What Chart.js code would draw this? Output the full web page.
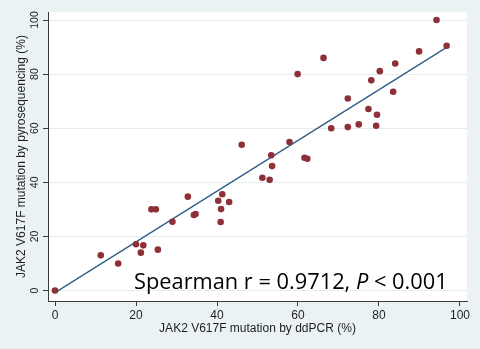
<!DOCTYPE html>
<html>
<head>
<meta charset="utf-8">
<script src="https://cdn.jsdelivr.net/npm/chart.js@4/dist/chart.umd.min.js"></script>
<style>
  html, body { margin: 0; padding: 0; background: #eaf2f3; }
  #wrap { width: 480px; height: 349px; }
</style>
</head>
<body>
<div id="wrap"><canvas id="c" width="480" height="349"></canvas></div>
<script>
// JAK2 V617F allele burden measured by ddPCR (x) and pyrosequencing (y), %
const ddpcr = [0, 11.3, 15.6, 20.0, 21.8, 21.2, 25.4, 23.8, 24.9, 29.0,
               32.8, 34.3, 34.7, 40.9, 41.0, 40.3, 41.3, 43.0, 46.1, 51.2,
               53.0, 53.6, 53.4, 57.9, 61.6, 62.3, 59.9, 66.3, 68.2, 72.3,
               72.3, 75.0, 77.4, 78.1, 80.2, 79.5, 79.3, 83.5, 84.0, 89.9,
               94.2, 96.7];
const pyro = [0, 13.0, 10.0, 17.1, 16.7, 14.0, 15.1, 30.0, 30.0, 25.4,
              34.7, 27.9, 28.3, 25.3, 30.1, 33.2, 35.6, 32.7, 53.9, 41.7,
              40.9, 46.0, 50.0, 54.9, 49.1, 48.7, 80.0, 86.0, 60.0, 71.0,
              60.4, 61.4, 67.1, 77.7, 81.1, 65.0, 60.9, 73.5, 83.9, 88.4,
              100.0, 90.5];

// Linear fit line endpoints (over the observed ddPCR range)
const fitX = [0, 96.7];
const fitY = [-0.8, 89.9];

// Axis ticks and labels
const xTicks = [0, 20, 40, 60, 80, 100];
const yTicks = [0, 20, 40, 60, 80, 100];
const xTickLabels = ['0', '20', '40', '60', '80', '100'];
const yTickLabels = ['0', '20', '40', '60', '80', '100'];

const xTitle = 'JAK2 V617F mutation by ddPCR (%)';
const yTitle = 'JAK2 V617F mutation by pyrosequencing (%)';
const statText = ['Spearman r = 0.9712, ', 'P', ' < 0.001'];

const BG = '#eaf2f3';
const AXIS = '#3a3a3a';
const TEXT = '#1e1e1e';

const points = ddpcr.map((v, i) => ({ x: v, y: pyro[i] }));
const fitLine = fitX.map((v, i) => ({ x: v, y: fitY[i] }));

// Background: bluish-gray surround with white plot region
const framePlugin = {
  id: 'frame',
  beforeDraw(chart) {
    const { ctx, chartArea: a } = chart;
    ctx.save();
    ctx.fillStyle = BG;
    ctx.fillRect(0, 0, chart.width, chart.height);
    ctx.fillStyle = '#ffffff';
    ctx.fillRect(a.left, a.top, a.right - a.left, a.bottom - a.top);
    ctx.restore();
  }
};

// Rotated y tick labels, axis titles and the correlation annotation
const textPlugin = {
  id: 'texts',
  afterDraw(chart) {
    const { ctx, chartArea: a } = chart;
    const ys = chart.scales.y;
    ctx.save();
    ctx.fillStyle = TEXT;

    // y tick labels, reading bottom to top
    ctx.font = '10.5px "Liberation Sans", Arial, sans-serif';
    ctx.textAlign = 'center';
    ctx.textBaseline = 'alphabetic';
    yTicks.forEach((v, i) => {
      const py = ys.getPixelForValue(v);
      ctx.save();
      ctx.translate(37.5, py);
      ctx.rotate(-Math.PI / 2);
      ctx.fillText(yTickLabels[i], 0, 0);
      ctx.restore();
    });

    // axis titles
    ctx.font = '12px "Liberation Sans", Arial, sans-serif';
    ctx.save();
    ctx.translate(24.5, (a.top + a.bottom) / 2);
    ctx.rotate(-Math.PI / 2);
    ctx.fillText(yTitle, 0, 0);
    ctx.restore();
    ctx.fillText(xTitle, (a.left + a.right) / 2, 332);

    // Spearman annotation with italic P
    ctx.textAlign = 'left';
    ctx.fillStyle = '#000000';
    const up = '21.8px "Open Sans", "Noto Sans", sans-serif';
    const it = 'italic 21.8px "Open Sans", "Noto Sans", sans-serif';
    let x = 134;
    const base = 288.5;
    statText.forEach((s, i) => {
      ctx.font = i === 1 ? it : up;
      ctx.fillText(s, x, base);
      x += ctx.measureText(s).width;
    });
    ctx.restore();
  }
};

new Chart(document.getElementById('c'), {
  type: 'scatter',
  data: {
    datasets: [
      {
        label: 'Samples',
        data: points,
        backgroundColor: '#8e3038',
        borderWidth: 0,
        pointRadius: 3.3,
        pointHoverRadius: 3.3,
        order: 1
      },
      {
        type: 'line',
        label: 'Linear fit',
        data: fitLine,
        borderColor: '#2f5d88',
        borderWidth: 1.3,
        pointRadius: 0,
        fill: false,
        tension: 0,
        order: 2
      }
    ]
  },
  options: {
    responsive: false,
    animation: false,
    devicePixelRatio: 1,
    layout: { padding: { left: 0, top: 12, right: 13, bottom: 0 } },
    plugins: {
      legend: { display: false },
      tooltip: { enabled: false }
    },
    scales: {
      x: {
        type: 'linear',
        min: -1.73,
        max: 101.73,
        afterBuildTicks(s) { s.ticks = xTicks.map(v => ({ value: v })); },
        afterFit(s) { s.height = 48; },
        ticks: {
          callback(v) { const i = xTicks.indexOf(v); return i >= 0 ? xTickLabels[i] : ''; },
          color: TEXT,
          font: { family: '"Liberation Sans", Arial, sans-serif', size: 12 },
          padding: 2,
          maxRotation: 0,
          autoSkip: false
        },
        grid: {
          display: true,
          drawOnChartArea: false,
          drawTicks: true,
          tickLength: 5,
          tickColor: AXIS
        },
        border: { display: true, color: AXIS, width: 1 }
      },
      y: {
        type: 'linear',
        min: -3.88,
        max: 102.96,
        afterBuildTicks(s) { s.ticks = yTicks.map(v => ({ value: v })); },
        afterFit(s) { s.width = 48; },
        ticks: { display: false },
        grid: {
          display: true,
          drawOnChartArea: true,
          drawTicks: true,
          tickLength: 5,
          color: '#e4eeef',
          tickColor: AXIS
        },
        border: { display: true, color: AXIS, width: 1 }
      }
    }
  },
  plugins: [framePlugin, textPlugin]
});
</script>
</body>
</html>
